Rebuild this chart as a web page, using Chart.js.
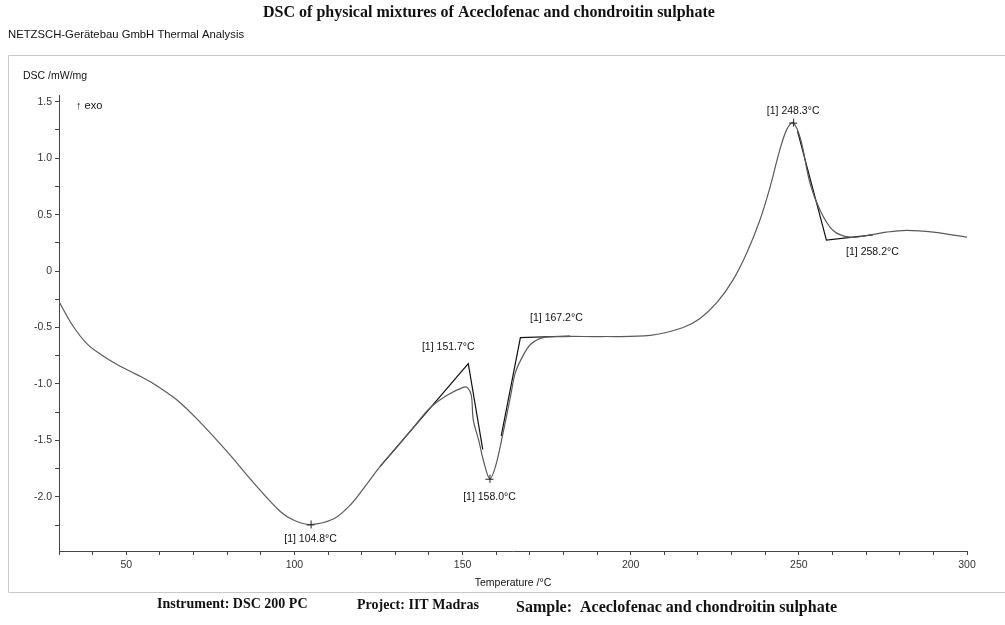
<!DOCTYPE html>
<html>
<head>
<meta charset="utf-8">
<script src="https://cdn.jsdelivr.net/npm/chart.js@4.4.1/dist/chart.umd.min.js"></script>
<style>
  html, body { margin: 0; padding: 0; background: #fff; }
  #wrap { position: relative; width: 1005px; height: 625px; }
</style>
</head>
<body>
<div id="wrap"><canvas id="dscChart" width="1005" height="625"></canvas></div>
<script>
const temps = [30, 34, 38.5, 43, 47.4, 53, 58, 65, 72, 80, 88, 95.8, 100, 104.8, 111.7, 116.7,
  121.7, 125.5, 130.6, 135.4, 140.4, 145.4, 150.2, 151.5, 152.6, 153.2, 154.8, 156.4, 158.1,
  159.8, 161.8, 164.2, 165.7, 167.8, 170.2, 174, 180, 191, 205.8, 215.6, 220.6, 225.6, 230.4,
  234.5, 238.4, 241.4, 244.4, 246.5, 248.3, 250.5, 253.3, 256.3, 260.2, 265.2, 271.3, 276,
  282, 290, 300];
const dsc = [-0.27, -0.48, -0.65, -0.75, -0.83, -0.915, -0.995, -1.14, -1.34, -1.60, -1.88, -2.13,
  -2.21, -2.245, -2.195, -2.07, -1.88, -1.73, -1.555, -1.385, -1.21, -1.10, -1.03, -1.035, -1.10,
  -1.32, -1.50, -1.70, -1.84, -1.73, -1.47, -1.12, -0.90, -0.76, -0.65, -0.59, -0.58, -0.58,
  -0.57, -0.50, -0.42, -0.28, -0.08, 0.16, 0.45, 0.74, 1.08, 1.26, 1.315, 1.17, 0.78, 0.54,
  0.36, 0.30, 0.32, 0.345, 0.36, 0.345, 0.30];

// construcciones de tangentes (onset / endset)
const tanOnsetT = [125.5, 151.7, 156];
const tanOnsetV = [-1.73, -0.82, -1.58];
const tanEndT = [161.5, 167.2, 182];
const tanEndV = [-1.46, -0.59, -0.575];
const tanPeakT = [249.6, 258.2, 272];
const tanPeakV = [1.24, 0.275, 0.32];

// picos marcados con "+"
const peakT = [104.8, 158.0, 248.3];
const peakV = [-2.245, -1.84, 1.315];
const peakLabels = ['[1] 104.8°C', '[1] 158.0°C', '[1] 248.3°C'];

// puntos de onset/endset con etiqueta
const onsetT = [151.7, 167.2, 258.2];
const onsetV = [-0.82, -0.59, 0.275];
const onsetLabels = ['[1] 151.7°C', '[1] 167.2°C', '[1] 258.2°C'];

const xTickMin = 30, xTickMax = 300;
const yMin = -2.48, yMax = 1.56;

const pts = (xs, ys) => xs.map((x, i) => ({ x, y: ys[i] }));

const SANS = '"Liberation Sans", Arial, sans-serif';
const SERIF = '"Liberation Serif", "Times New Roman", serif';

// Textos, marco y anotaciones
const decorPlugin = {
  id: 'decor',
  afterDraw(chart) {
    const ctx = chart.ctx;
    const xs = chart.scales.x, ys = chart.scales.y;
    const area = chart.chartArea;
    ctx.save();

    // marco gris del informe
    ctx.strokeStyle = '#c8c8c8';
    ctx.lineWidth = 1;
    ctx.beginPath();
    ctx.moveTo(8.5, 592); ctx.lineTo(8.5, 55.5); ctx.lineTo(1005, 55.5);
    ctx.moveTo(8.5, 592.5); ctx.lineTo(1005, 592.5);
    ctx.stroke();

    ctx.fillStyle = '#111';
    ctx.textBaseline = 'middle';

    // título
    ctx.font = 'bold 16px ' + SERIF;
    ctx.textAlign = 'center';
    ctx.fillText('DSC of physical mixtures of Aceclofenac and chondroitin sulphate', 489, 13);

    ctx.font = '11.3px ' + SANS;
    ctx.textAlign = 'left';
    ctx.fillText('NETZSCH-Gerätebau GmbH Thermal Analysis', 8, 35);

    ctx.font = '10.5px ' + SANS;
    ctx.fillText('DSC /mW/mg', 23, 76);
    ctx.font = '11px ' + SANS;
    ctx.fillText('↑ exo', 76, 106);

    ctx.font = '10.5px ' + SANS;
    ctx.textAlign = 'center';
    ctx.fillText('Temperature /°C', (area.left + area.right) / 2, 583);

    // pie
    ctx.font = 'bold 14px ' + SERIF;
    ctx.textAlign = 'left';
    ctx.fillText('Instrument: DSC 200 PC', 157, 604);
    ctx.fillText('Project: IIT Madras', 357, 605);
    ctx.font = 'bold 16px ' + SERIF;
    ctx.fillText('Sample:  Aceclofenac and chondroitin sulphate', 516, 608);

    // marcas "+" en los picos
    ctx.strokeStyle = '#222';
    ctx.lineWidth = 1;
    ctx.font = '10.5px ' + SANS;
    ctx.textAlign = 'center';
    const peakOff = [[0, 15], [0, 18], [0, -12]];
    peakT.forEach((t, i) => {
      const px = xs.getPixelForValue(t), py = ys.getPixelForValue(peakV[i]);
      ctx.beginPath();
      ctx.moveTo(px - 4, py + 0.5); ctx.lineTo(px + 4, py + 0.5);
      ctx.moveTo(px + 0.5, py - 4); ctx.lineTo(px + 0.5, py + 4);
      ctx.stroke();
      ctx.fillText(peakLabels[i], px + peakOff[i][0], py + peakOff[i][1]);
    });

    const onOff = [[-20, -17], [36, -20], [46, 12]];
    onsetT.forEach((t, i) => {
      const px = xs.getPixelForValue(t), py = ys.getPixelForValue(onsetV[i]);
      ctx.fillText(onsetLabels[i], px + onOff[i][0], py + onOff[i][1]);
    });

    ctx.restore();
  }
};

const tickColor = '#333';

new Chart(document.getElementById('dscChart'), {
  type: 'scatter',
  data: {
    datasets: [
      {
        label: 'DSC',
        data: pts(temps, dsc),
        showLine: true,
        borderColor: '#5a5a5a',
        borderWidth: 1.2,
        pointRadius: 0,
        tension: 0.35
      },
      { label: 'onset', data: pts(tanOnsetT, tanOnsetV), showLine: true, borderColor: '#111', borderWidth: 1.2, pointRadius: 0, tension: 0 },
      { label: 'endset', data: pts(tanEndT, tanEndV), showLine: true, borderColor: '#111', borderWidth: 1.2, pointRadius: 0, tension: 0 },
      { label: 'peak', data: pts(tanPeakT, tanPeakV), showLine: true, borderColor: '#111', borderWidth: 1.2, pointRadius: 0, tension: 0 }
    ]
  },
  options: {
    responsive: false,
    animation: false,
    layout: { padding: { top: 95, right: 38, bottom: 0, left: 0 } },
    plugins: { legend: { display: false }, tooltip: { enabled: false } },
    scales: {
      x: {
        type: 'linear',
        min: xTickMin,
        max: xTickMax,
        afterFit: s => { s.height = 74; },
        border: { display: true, color: '#444', width: 1 },
        grid: { drawOnChartArea: false, drawTicks: true, tickLength: 4, color: '#444' },
        ticks: {
          stepSize: 10,
          autoSkip: false,
          maxRotation: 0,
          padding: 4,
          color: tickColor,
          font: { family: SANS, size: 10.5 },
          callback: v => (v % 50 === 0 ? String(v) : '')
        }
      },
      y: {
        type: 'linear',
        min: yMin,
        max: yMax,
        afterFit: s => { s.width = 59; },
        border: { display: true, color: '#444', width: 1 },
        grid: { drawOnChartArea: false, drawTicks: true, tickLength: 4, color: '#444' },
        ticks: {
          stepSize: 0.25,
          includeBounds: false,
          autoSkip: false,
          padding: 3,
          color: tickColor,
          font: { family: SANS, size: 10.5 },
          callback: v => {
            if (Math.abs(v * 2 - Math.round(v * 2)) > 1e-6) return '';
            return Math.abs(v) < 1e-9 ? '0' : v.toFixed(1);
          }
        }
      }
    }
  },
  plugins: [decorPlugin]
});
</script>
</body>
</html>
